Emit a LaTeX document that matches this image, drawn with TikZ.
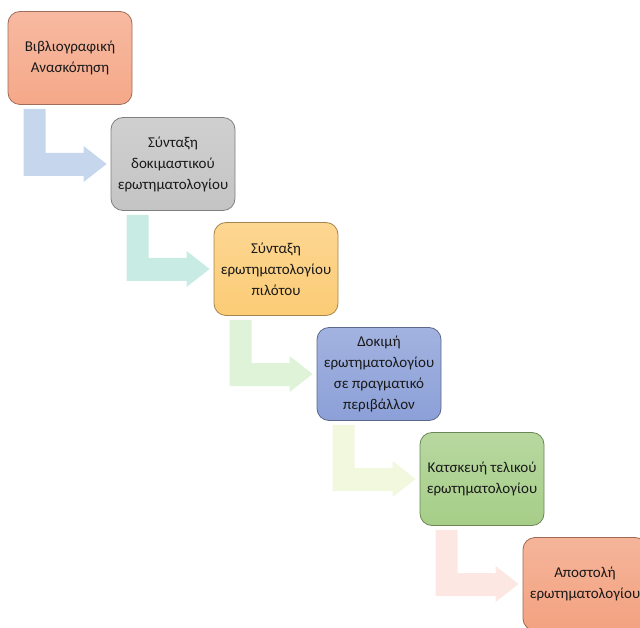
\documentclass[tikz,border=0pt]{standalone}
\usepackage{fontspec}
\setmainfont{Carlito}
\usepackage{tikz}
\usetikzlibrary{calc}

\definecolor{salmonA}{RGB}{245,168,137}
\definecolor{greyA}{RGB}{196,196,196}
\definecolor{yellowA}{RGB}{252,204,118}
\definecolor{blueA}{RGB}{140,160,216}
\definecolor{greenA}{RGB}{166,206,136}
\definecolor{salmonB}{RGB}{243,162,128}
\definecolor{arrowBlue}{RGB}{198,214,236}
\definecolor{arrowTeal}{RGB}{200,236,228}
\definecolor{arrowMint}{RGB}{222,243,215}
\definecolor{arrowLime}{RGB}{242,248,222}
\definecolor{arrowPink}{RGB}{252,231,227}

\begin{document}
\begin{tikzpicture}[x=1pt,y=-1pt,
  stage/.style={draw=#1!65!black, line width=0.8pt, rounded corners=12pt,
    top color=#1!80!white, bottom color=#1,
    minimum width=124pt, minimum height=93pt, inner sep=0pt,
    align=center, text=black!90, font=\fontsize{15}{21}\selectfont}]
  \path[use as bounding box] (0,0) rectangle (640,628);
  \clip (0,0) rectangle (640,628);

  \node[stage=salmonA] (lit) at (70,58) {Βιβλιογραφική\\Ανασκόπηση};
  \node[stage=greyA] (draft) at (173,164) {Σύνταξη\\δοκιμαστικού\\ερωτηματολογίου};
  \node[stage=yellowA] (pilot) at (276,269) {Σύνταξη\\ερωτηματολογίου\\πιλότου};
  \node[stage=blueA] (test) at (379,374) {Δοκιμή\\ερωτηματολογίου\\σε πραγματικό\\περιβάλλον};
  \node[stage=greenA] (final) at (482,479) {Κατσκευή τελικού\\ερωτηματολογίου};
  \node[stage=salmonB] (send) at (585,584) {Αποστολή\\ερωτηματολογίου};

  % bent arrows: down from one box, then right into the next
  \fill[arrowBlue] ($(lit.south west)+(16,4)$) -- ($(lit.south west)+(38,4)$)
    |- ($(draft.west)+(-27,-11)$) -- ++(0,-7) -- ($(draft.west)+(-4,0)$)
    -- ($(draft.west)+(-27,18)$) -- ++(0,-6) -| ($(lit.south west)+(16,4)$) -- cycle;
  \fill[arrowTeal] ($(draft.south west)+(16,4)$) -- ($(draft.south west)+(38,4)$)
    |- ($(pilot.west)+(-27,-11)$) -- ++(0,-7) -- ($(pilot.west)+(-4,0)$)
    -- ($(pilot.west)+(-27,18)$) -- ++(0,-6) -| ($(draft.south west)+(16,4)$) -- cycle;
  \fill[arrowMint] ($(pilot.south west)+(16,4)$) -- ($(pilot.south west)+(38,4)$)
    |- ($(test.west)+(-27,-11)$) -- ++(0,-7) -- ($(test.west)+(-4,0)$)
    -- ($(test.west)+(-27,18)$) -- ++(0,-6) -| ($(pilot.south west)+(16,4)$) -- cycle;
  \fill[arrowLime] ($(test.south west)+(16,4)$) -- ($(test.south west)+(38,4)$)
    |- ($(final.west)+(-27,-11)$) -- ++(0,-7) -- ($(final.west)+(-4,0)$)
    -- ($(final.west)+(-27,18)$) -- ++(0,-6) -| ($(test.south west)+(16,4)$) -- cycle;
  \fill[arrowPink] ($(final.south west)+(16,4)$) -- ($(final.south west)+(38,4)$)
    |- ($(send.west)+(-27,-11)$) -- ++(0,-7) -- ($(send.west)+(-4,0)$)
    -- ($(send.west)+(-27,18)$) -- ++(0,-6) -| ($(final.south west)+(16,4)$) -- cycle;
\end{tikzpicture}
\end{document}
